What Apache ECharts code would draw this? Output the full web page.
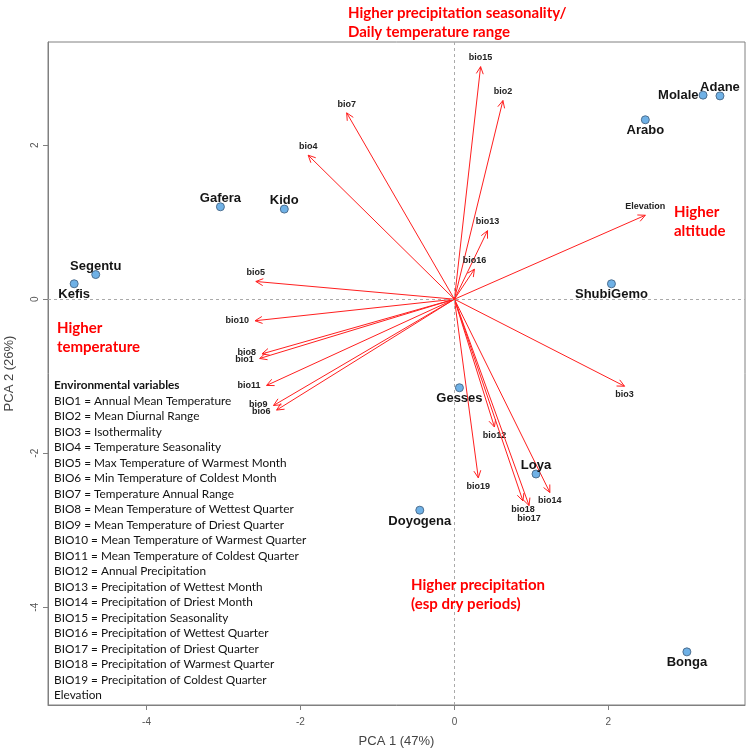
<!DOCTYPE html>
<html><head><meta charset="utf-8">
<script src="https://cdn.jsdelivr.net/npm/echarts@6/dist/echarts.min.js"></script>
<style>html,body{margin:0;padding:0;background:#fff}#c{width:750px;height:754px}</style>
</head><body><div id="c"></div>
<script>
// ---- data ----
const siteNames = ['Gafera','Kido','Segentu','Kefis','Molale','Adane','Arabo','ShubiGemo','Gesses','Loya','Doyogena','Bonga'];
const siteX = [-3.04,-2.21,-4.66,-4.94,3.23,3.45,2.48,2.04,0.065,1.06,-0.45,3.02];
const siteY = [1.20,1.17,0.32,0.20,2.65,2.64,2.33,0.20,-1.15,-2.27,-2.74,-4.58];

const varNames = ['bio15','bio2','bio7','bio4','Elevation','bio13','bio16','bio5','bio10','bio8','bio1','bio11','bio9','bio6','bio3','bio12','bio19','bio14','bio18','bio17'];
const varX = [0.34,0.63,-1.40,-1.90,2.48,0.43,0.26,-2.58,-2.59,-2.50,-2.53,-2.44,-2.35,-2.31,2.21,0.52,0.31,1.24,0.89,0.97];
const varY = [3.02,2.58,2.42,1.87,1.09,0.89,0.39,0.23,-0.28,-0.71,-0.77,-1.12,-1.38,-1.44,-1.13,-1.66,-2.32,-2.51,-2.62,-2.68];

const xTicks = [-4,-2,0,2];
const yTicks = [-4,-2,0,2];
const xTitle = 'PCA 1 (47%)';
const yTitle = 'PCA 2 (26%)';

const legendTitle = 'Environmental variables';
const legendLines = [
 'BIO1 = Annual Mean Temperature',
 'BIO2 = Mean Diurnal Range',
 'BIO3 = Isothermality',
 'BIO4 = Temperature Seasonality',
 'BIO5 = Max Temperature of Warmest Month',
 'BIO6 = Min Temperature of Coldest Month',
 'BIO7 = Temperature Annual Range',
 'BIO8 = Mean Temperature of Wettest Quarter',
 'BIO9 = Mean Temperature of Driest Quarter',
 'BIO10 = Mean Temperature of Warmest Quarter',
 'BIO11 = Mean Temperature of Coldest Quarter',
 'BIO12 = Annual Precipitation',
 'BIO13 = Precipitation of Wettest Month',
 'BIO14 = Precipitation of Driest Month',
 'BIO15 = Precipitation Seasonality',
 'BIO16 = Precipitation of Wettest Quarter',
 'BIO17 = Precipitation of Driest Quarter',
 'BIO18 = Precipitation of Warmest Quarter',
 'BIO19 = Precipitation of Coldest Quarter',
 'Elevation'
];
const noteTop = ['Higher precipitation seasonality/','Daily temperature range'];
const noteRight = ['Higher','altitude'];
const noteLeft = ['Higher','temperature'];
const noteBottom = ['Higher precipitation','(esp dry periods)'];

// ---- placement / style ----
const siteLabelPos = {Gafera:'top',Kido:'top',Segentu:'top',Kefis:'bottom',Molale:'left',Adane:'top',Arabo:'bottom',ShubiGemo:'bottom',Gesses:'bottom',Loya:'top',Doyogena:'bottom',Bonga:'bottom'};
const varLabelPlace = {
 bio15:['top',0],bio2:['top',0],bio7:['top',0],bio4:['top',0],Elevation:['top',0],bio13:['top',0],bio16:['top',0],bio5:['top',0],
 bio10:['left',0],bio8:['left',-1],bio1:['left',1],bio11:['left',0],bio9:['left',-1],bio6:['left',1],
 bio3:['bottom',0],bio12:['bottom',0],bio19:['bottom',0],bio14:['bottom',0],bio18:['bottom',0],bio17:['bottom',5]
};
const RED = '#ff1f1f';
const SANS = '"Liberation Sans", Arial, Helvetica, sans-serif';
const CAL = 'Lato, "Open Sans", sans-serif';

const chart = echarts.init(document.getElementById('c'), null, {renderer:'canvas'});

const graphics = [];
function noteLines(lines, x, y0, step){
  lines.forEach((t,i)=>graphics.push({type:'text', x:x, y:y0+i*step, z:50,
    style:{text:t, fill:'#ff0000', font:'bold 15px '+CAL, align:'left', verticalAlign:'middle'}}));
}
noteLines(noteTop, 348, 13, 19);
noteLines(noteRight, 674, 212, 19);
noteLines(noteLeft, 57, 328, 19);
noteLines(noteBottom, 411, 585, 19);
graphics.push({type:'text', x:54, y:385.3, z:50, style:{text:legendTitle, fill:'#111', font:'bold 11.8px '+CAL, align:'left', verticalAlign:'middle'}});
legendLines.forEach((t,i)=>graphics.push({type:'text', x:54, y:385.3+(i+1)*15.5, z:50,
  style:{text:t, fill:'#111', font:'11.8px '+CAL, align:'left', verticalAlign:'middle'}}));

const option = {
  animation:false,
  backgroundColor:'#fff',
  grid:{left:48,right:5,top:42,bottom:49,show:true,borderColor:'#808080',borderWidth:1,containLabel:false,outerBoundsMode:'none'},
  xAxis:{type:'value',min:-5.28,max:3.775,
    name:xTitle,nameLocation:'middle',nameGap:30,
    nameTextStyle:{fontSize:13,color:'#444',fontFamily:SANS},
    splitLine:{show:false},
    axisLine:{show:true,onZero:false,lineStyle:{color:'#808080'}},
    axisTick:{show:true,length:5,customValues:xTicks,lineStyle:{color:'#808080'}},
    axisLabel:{show:true,customValues:xTicks,margin:12,fontSize:10,color:'#555',fontFamily:SANS}
  },
  yAxis:{type:'value',min:-5.27,max:3.34,
    name:yTitle,nameLocation:'middle',nameGap:32,
    nameTextStyle:{fontSize:13,color:'#444',fontFamily:SANS},
    splitLine:{show:false},
    axisLine:{show:true,onZero:false,lineStyle:{color:'#808080'}},
    axisTick:{show:true,length:5,customValues:yTicks,lineStyle:{color:'#808080'}},
    axisLabel:{show:true,customValues:yTicks,rotate:90,margin:8,fontSize:10,color:'#555',fontFamily:SANS}
  },
  graphic:graphics,
  series:[
    {
      type:'custom', coordinateSystem:'cartesian2d', z:3, silent:true,
      data:varX.map((x,i)=>[x,varY[i]]),
      encode:{x:0,y:1},
      renderItem:function(params, api){
        const o = api.coord([0,0]);
        const t = api.coord([api.value(0), api.value(1)]);
        const name = varNames[params.dataIndex];
        const dx=t[0]-o[0], dy=t[1]-o[1];
        const len=Math.hypot(dx,dy);
        const bx=-dx/len, by=-dy/len;
        const hl=8, ang=Math.PI/7, c=Math.cos(ang), s=Math.sin(ang);
        const h1=[t[0]+hl*(bx*c-by*s), t[1]+hl*(bx*s+by*c)];
        const h2=[t[0]+hl*(bx*c+by*s), t[1]+hl*(-bx*s+by*c)];
        const pl = varLabelPlace[name] || ['top',0];
        let tx=t[0], ty=t[1], al='center';
        if(pl[0]==='top') ty=t[1]-8.7+pl[1];
        else if(pl[0]==='bottom') ty=t[1]+8.3+pl[1];
        else { tx=t[0]-6; al='right'; ty=t[1]+pl[1]; }
        return {type:'group', children:[
          {type:'line', shape:{x1:o[0],y1:o[1],x2:t[0],y2:t[1]}, style:{stroke:RED,lineWidth:1}},
          {type:'polyline', shape:{points:[h1,t,h2]}, style:{stroke:RED,lineWidth:1,fill:null}},
          {type:'text', style:{text:name,x:tx,y:ty,align:al,verticalAlign:'middle',
            font:'bold 9px '+SANS, fill:'#222'}}
        ]};
      }
    },
    {
      type:'scatter', z:5, symbol:'circle', symbolSize:8,
      itemStyle:{color:'#6fb1e6',borderColor:'#4d6f90',borderWidth:1,opacity:1},
      label:{show:true,formatter:'{b}',fontSize:13,fontWeight:'bold',color:'#151515',fontFamily:SANS,distance:0},
      data:siteNames.map((n,i)=>({name:n,value:[siteX[i],siteY[i]],
        label:{position:siteLabelPos[n], distance:(siteLabelPos[n]==='top'?-2.5:0)}})),
      markLine:{silent:true,symbol:['none','none'],animation:false,label:{show:false},
        lineStyle:{type:[3,3],color:'#aaaaaa',width:1},
        data:[{xAxis:0},{yAxis:0}]
      }
    }
  ]
};
chart.setOption(option);
</script>
</body></html>
